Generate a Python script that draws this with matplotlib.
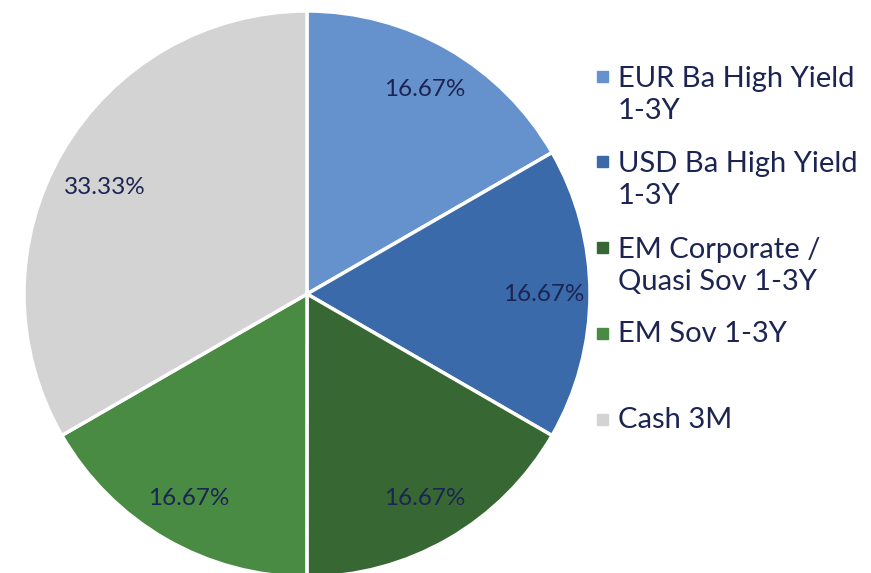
import matplotlib
matplotlib.use("Agg")
from matplotlib import pyplot as plt
from matplotlib.patches import Rectangle

labels = ["EUR Ba High Yield\n1-3Y", "USD Ba High Yield\n1-3Y",
          "EM Corporate /\nQuasi Sov 1-3Y", "EM Sov 1-3Y", "Cash 3M"]
shares = [16.67, 16.67, 16.67, 16.67, 33.33]
colors = ["#6592CD", "#3A6AAA", "#376833", "#4A8B44", "#D3D3D3"]
text_col = "#1C2452"

plt.rcParams['font.family'] = ['Lato', 'DejaVu Sans']

W, H = 871, 573
fig = plt.figure(figsize=(W/100, H/100), dpi=100)

# pie centre (307, 294) px from top, radius 283 px
cx, cy, r = 307, 294, 283
ax = fig.add_axes([(cx-r)/W, (H-cy-r)/H, 2*r/W, 2*r/H])
wedges, texts, autotexts = ax.pie(
    shares, colors=colors, startangle=90, counterclock=False,
    autopct='%.2f%%', pctdistance=0.835,
    wedgeprops=dict(edgecolor='white', linewidth=2.5),
    textprops=dict(color=text_col, fontsize=17.5))
# excel puts the big slice label a little lower than the bisector
x, y = autotexts[-1].get_position()
autotexts[-1].set_position((x + 0.01, y - 0.04))
ax.set_xlim(-1, 1)
ax.set_ylim(-1, 1)
ax.axis('off')

# legend drawn by hand so the marker sits on the first line
ys = [77, 162, 248, 334, 420]
for lab, col, y in zip(labels, colors, ys):
    fig.add_artist(Rectangle((597/W, 1-(y+5)/H), 11/W, 11/H,
                             transform=fig.transFigure, color=col))
    mid = y + 18 if '\n' in lab else y
    fig.text(618/W, 1-mid/H, lab, color=text_col, fontsize=21,
             va='center', ha='left', linespacing=1.28)

fig.savefig("out.png", dpi=100)
